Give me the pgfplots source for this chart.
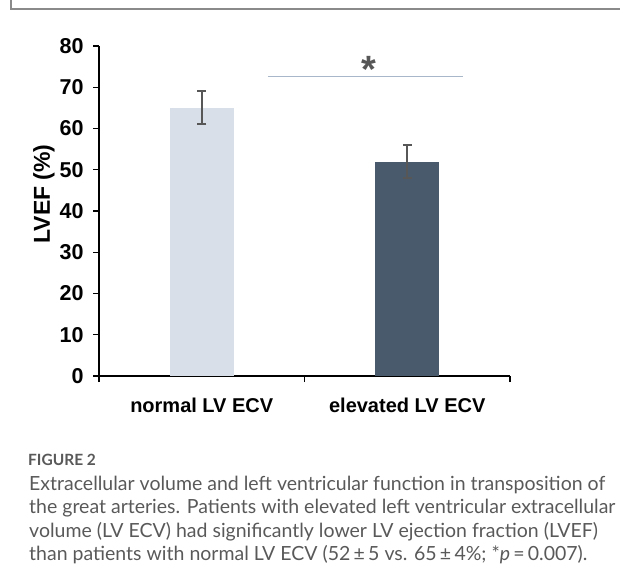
\documentclass[border=0pt]{standalone}
\usepackage{fontspec}
\setmainfont{Liberation Sans}
\newfontfamily\capfont{Lato}
\usepackage{pgfplots}
\pgfplotsset{compat=1.18}
\definecolor{barA}{HTML}{D9DFE9}
\definecolor{barB}{HTML}{4A5A6D}
\definecolor{errc}{HTML}{575757}
\definecolor{sigc}{HTML}{A8B8CA}
\definecolor{framec}{HTML}{8A8A8A}
\definecolor{capc}{HTML}{595959}
\begin{document}
\begin{tikzpicture}[x=1pt,y=1pt]
\useasboundingbox (0,0) rectangle (620,570);
\draw[framec, line width=1.3pt] (11,570) -- (11,561) -- (620,561);
\begin{axis}[
  at={(99pt,194pt)}, anchor=south west,
  scale only axis, width=411pt, height=330pt,
  xmin=-0.5, xmax=1.5, ymin=0, ymax=80,
  axis lines*=left,
  axis line style={black, line width=1.4pt},
  ytick={0,10,...,80},
  xtick={-0.5,0.5,1.5}, xticklabels={},
  tick align=outside, major tick length=6pt,
  tick style={black, line width=1.3pt},
  /pgf/number format/assume math mode=true,
  yticklabel style={font=\fontsize{21.5}{21.5}\selectfont\bfseries, xshift=-6pt},
  extra x ticks={0,1},
  extra x tick labels={normal LV ECV, elevated LV ECV},
  extra x tick style={major tick length=0pt, tick label style={font=\fontsize{20}{20}\selectfont\bfseries, yshift=-18pt}},
  clip=false,
]
\addplot[ybar, bar width=64pt, fill=barA, draw=none, bar shift=0pt] coordinates {(0,65)};
\addplot[ybar, bar width=64pt, fill=barB, draw=none, bar shift=0pt] coordinates {(1,52)};
\addplot[draw=none, no marks, forget plot,
  error bars/.cd, y dir=both, y explicit,
  error bar style={errc, line width=2pt},
  error mark options={errc, line width=2pt, mark size=4.5pt, rotate=90}]
  coordinates {(0,65) +- (0,4) (1,52) +- (0,4)};
\addplot[sharp plot, sigc, line width=1pt, mark=none] coordinates {(0.32,72.7) (1.27,72.7)};
\node[text=errc, font=\fontsize{38}{38}\selectfont\bfseries] at (axis cs:0.815,74.3) {*};
\end{axis}
\node[rotate=90, font=\fontsize{23}{23}\selectfont\bfseries] at (44,376) {LVEF (\%)};
\begin{scope}[capc]
\node[anchor=base west, inner sep=0pt, font=\capfont\fontsize{15.5}{15.5}\selectfont\bfseries] at (28,105) {FIGURE 2};
\node[anchor=base west, inner sep=0pt, font=\capfont\fontsize{19.5}{19.5}\selectfont] at (29,80) {Extracellular volume and left ventricular function in transposition of};
\node[anchor=base west, inner sep=0pt, font=\capfont\fontsize{19.5}{19.5}\selectfont] at (29,56.5) {the great arteries. Patients with elevated left ventricular extracellular};
\node[anchor=base west, inner sep=0pt, font=\capfont\fontsize{19.5}{19.5}\selectfont] at (29,33) {volume (LV ECV) had significantly lower LV ejection fraction (LVEF)};
\node[anchor=base west, inner sep=0pt, font=\capfont\fontsize{19.5}{19.5}\selectfont] at (29,9.5) {than patients with normal LV ECV (52\,±\,5 vs. 65\,±\,4\%; *\textit{p}\,=\,0.007).};
\end{scope}
\end{tikzpicture}
\end{document}
